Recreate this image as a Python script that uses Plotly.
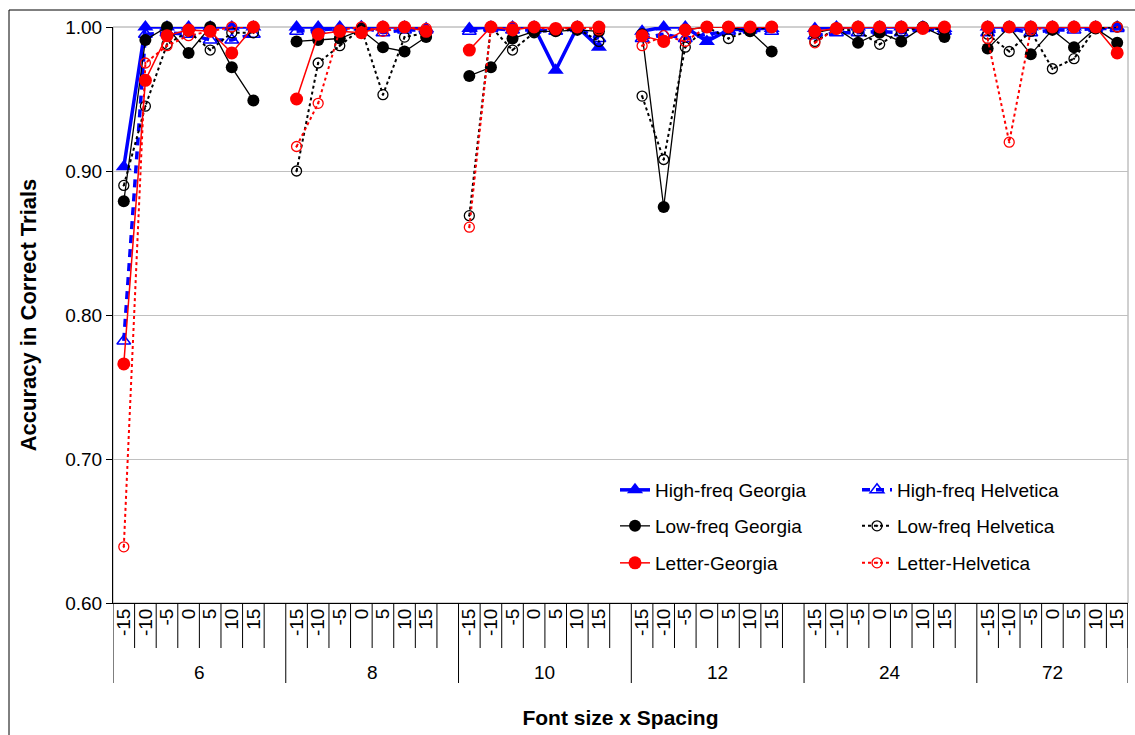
import plotly.graph_objects as go

# ---------------- data ----------------
font_sizes = ["6", "8", "10", "12", "24", "72"]
spacings = ["-15", "-10", "-5", "0", "5", "10", "15"]

hf_georgia = [
    [0.903, 1.000, 1.000, 1.000, 1.000, 1.000, 1.000],
    [1.000, 1.000, 1.000, 1.000, 1.000, 1.000, 0.999],
    [0.999, 1.000, 1.000, 1.000, 0.970, 1.000, 0.986],
    [0.997, 1.000, 1.000, 0.990, 0.998, 0.999, 0.999],
    [0.999, 1.000, 1.000, 1.000, 1.000, 1.000, 0.999],
    [1.000, 1.000, 1.000, 1.000, 1.000, 1.000, 1.000],
]
hf_helvetica = [
    [0.782, 0.995, 0.996, 0.995, 0.991, 0.991, 0.995],
    [0.997, 0.998, 0.999, 1.000, 0.996, 0.998, 0.998],
    [0.997, 0.999, 0.998, 0.998, 0.997, 0.999, 0.992],
    [0.992, 0.995, 0.992, 0.995, 0.997, 0.998, 0.997],
    [0.994, 0.996, 0.996, 0.997, 0.996, 0.999, 0.997],
    [0.996, 0.999, 0.996, 0.998, 0.998, 0.999, 0.999],
]
lf_georgia = [
    [0.879, 0.991, 1.000, 0.982, 1.000, 0.972, 0.949],
    [0.990, 0.991, 0.992, 0.998, 0.986, 0.983, 0.993],
    [0.966, 0.972, 0.992, 0.997, 0.997, 0.998, 0.997],
    [0.995, 0.875, 0.998, 1.000, 1.000, 0.997, 0.983],
    [0.996, 0.999, 0.989, 0.996, 0.990, 1.000, 0.993],
    [0.985, 1.000, 0.981, 0.998, 0.986, 0.999, 0.989],
]
lf_helvetica = [
    [0.890, 0.945, 0.988, 0.997, 0.984, 0.996, 0.996],
    [0.900, 0.975, 0.987, 0.999, 0.953, 0.993, 0.996],
    [0.869, 1.000, 0.984, 0.996, 0.998, 0.999, 0.990],
    [0.952, 0.908, 0.986, 1.000, 0.992, 0.998, 1.000],
    [0.990, 0.999, 0.997, 0.988, 0.997, 1.000, 0.998],
    [0.995, 0.983, 0.997, 0.971, 0.978, 0.999, 1.000],
]
letter_georgia = [
    [0.766, 0.963, 0.994, 0.998, 0.997, 0.982, 1.000],
    [0.950, 0.995, 0.997, 0.996, 1.000, 1.000, 0.997],
    [0.984, 1.000, 0.998, 1.000, 0.999, 1.000, 1.000],
    [0.994, 0.990, 0.998, 1.000, 1.000, 1.000, 1.000],
    [0.997, 0.999, 1.000, 1.000, 1.000, 0.999, 1.000],
    [1.000, 1.000, 1.000, 1.000, 1.000, 1.000, 0.982],
]
letter_helvetica = [
    [0.639, 0.975, 0.987, 0.994, 0.997, 1.000, 1.000],
    [0.917, 0.947, 0.998, 1.000, 0.997, 1.000, 0.999],
    [0.861, 1.000, 1.000, 1.000, 0.998, 1.000, 0.998],
    [0.987, 0.994, 0.990, 1.000, 1.000, 1.000, 1.000],
    [0.989, 0.999, 1.000, 1.000, 1.000, 1.000, 1.000],
    [0.992, 0.920, 0.998, 1.000, 1.000, 1.000, 1.000],
]

# ---------------- category structure ----------------
n_sp = len(spacings)
slot = n_sp + 1  # one empty slot after each group
n_groups = len(font_sizes)
n_total = slot * (n_groups - 1) + n_sp


def flatten(groups):
    xs, ys = [], []
    for g, vals in enumerate(groups):
        for i, v in enumerate(vals):
            xs.append(g * slot + i)
            ys.append(v)
        if g < n_groups - 1:
            xs.append(g * slot + n_sp)
            ys.append(None)
    return xs, ys


series = [
    ("High-freq Georgia", hf_georgia, dict(color="#0000ff", width=3.5, dash="solid"),
     dict(symbol="triangle-up", size=14, color="#0000ff"), "legend"),
    ("High-freq Helvetica", hf_helvetica, dict(color="#0000ff", width=3.5, dash="8px,6px"),
     dict(symbol="triangle-up-open", size=12, color="#0000ff", line=dict(width=1.5, color="#0000ff")), "legend"),
    ("Low-freq Georgia", lf_georgia, dict(color="#000000", width=1.3, dash="solid"),
     dict(symbol="circle", size=12, color="#000000"), "legend2"),
    ("Low-freq Helvetica", lf_helvetica, dict(color="#000000", width=2, dash="dot"),
     dict(symbol="circle-open-dot", size=10, color="#000000", line=dict(width=1.3, color="#000000")), "legend2"),
    ("Letter-Georgia", letter_georgia, dict(color="#ff0000", width=1.5, dash="solid"),
     dict(symbol="circle", size=13, color="#ff0000"), "legend3"),
    ("Letter-Helvetica", letter_helvetica, dict(color="#ff0000", width=2, dash="dot"),
     dict(symbol="circle-open-dot", size=10, color="#ff0000", line=dict(width=1.3, color="#ff0000")), "legend3"),
]

fig = go.Figure()
for name, vals, line, marker, leg in series:
    xs, ys = flatten(vals)
    fig.add_trace(go.Scatter(
        x=xs, y=ys, name=name, mode="lines+markers",
        line=line, marker=marker, connectgaps=False,
        cliponaxis=False, legend=leg,
    ))

tickvals, ticktext = [], []
for g in range(n_groups):
    for i, s in enumerate(spacings):
        tickvals.append(g * slot + i)
        ticktext.append(s)

# geometry (pixels)
W, H = 1135, 735
L, R, T, B = 113, 7, 27, 132
plot_h = H - T - B
plot_w = W - L - R

shapes = []
# plot-area border (grey)
shapes.append(dict(type="rect", xref="paper", yref="paper", x0=0, x1=1, y0=0, y1=1,
                   line=dict(color="#a0a0a0", width=1), layer="below"))
# separators under the category axis
short_len = 45 / plot_h
long_len = 80 / plot_h
for g in range(n_groups):
    start = g * slot - 0.5
    shapes.append(dict(type="line", xref="x", yref="paper", x0=start, x1=start,
                       y0=0, y1=-long_len, line=dict(color="#000000", width=1)))
    n_in = n_sp if g == n_groups - 1 else slot - 1
    for k in range(1, n_in + 1):
        b = start + k
        shapes.append(dict(type="line", xref="x", yref="paper", x0=b, x1=b,
                           y0=0, y1=-short_len, line=dict(color="#000000", width=1)))
end = n_total - 0.5
shapes.append(dict(type="line", xref="x", yref="paper", x0=end, x1=end,
                   y0=0, y1=-long_len, line=dict(color="#000000", width=1)))
# outer chart border
shapes.append(dict(type="rect", xref="paper", yref="paper",
                   x0=(9 - L) / plot_w, x1=(W + 10 - L) / plot_w,
                   y0=-(H + 10 - T - plot_h) / plot_h, y1=1 + (T - 10) / plot_h,
                   line=dict(color="#000000", width=1)))

annotations = []
for g, fs in enumerate(font_sizes):
    n_in = n_sp if g == n_groups - 1 else slot
    center = g * slot - 0.5 + n_in / 2
    annotations.append(dict(x=center, xref="x", y=-(672 - (T + plot_h)) / plot_h, yref="paper",
                            text=fs, showarrow=False, yanchor="middle",
                            font=dict(size=19, color="#000000")))

leg_common = dict(orientation="h", xanchor="left", yanchor="middle", x=(615 - L) / plot_w,
                  bgcolor="rgba(0,0,0,0)", font=dict(size=19, color="#000000"),
                  entrywidth=197, itemclick=False, tracegroupgap=0)

def row_y(py):
    return (T + plot_h - py) / plot_h

fig.update_layout(
    width=W, height=H,
    margin=dict(l=L, r=R, t=T, b=B),
    paper_bgcolor="white", plot_bgcolor="white",
    font=dict(family="Liberation Sans, Arial, sans-serif", color="#000000"),
    showlegend=True,
    legend=dict(leg_common, y=row_y(490)),
    legend2=dict(leg_common, y=row_y(526)),
    legend3=dict(leg_common, y=row_y(563)),
    xaxis=dict(range=[-0.5, n_total - 0.5], tickmode="array", tickvals=tickvals,
               ticktext=ticktext, tickangle=-90, ticks="", showgrid=False,
               zeroline=False, showline=True, linecolor="#000000", linewidth=1,
               tickfont=dict(size=19), ticklabelstandoff=-3, automargin=False,
               title=dict(text="<b>Font size x Spacing</b>", font=dict(size=21), standoff=75)),
    yaxis=dict(range=[0.6, 1.0], dtick=0.1, tick0=0.6, tickformat=".2f",
               showgrid=True, gridcolor="#c0c0c0", gridwidth=1, zeroline=False,
               showline=True, linecolor="#000000", linewidth=1, automargin=False,
               ticks="outside", ticklen=6, tickcolor="#000000", tickfont=dict(size=19),
               title=dict(text="<b>Accuracy in Correct Trials</b>", font=dict(size=22), standoff=22)),
    shapes=shapes,
    annotations=annotations,
)

fig.write_html("out.html", config={"displayModeBar": False},
               post_script="document.body.style.margin='0px';")
